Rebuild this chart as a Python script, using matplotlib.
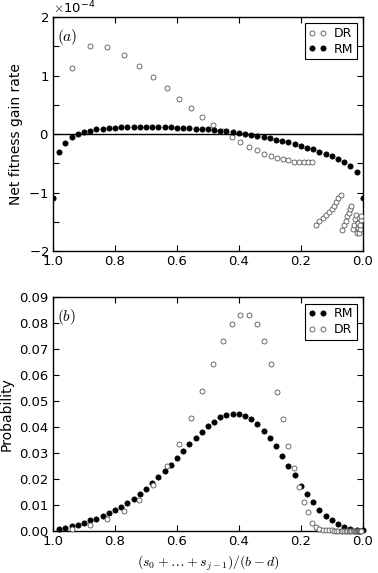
import matplotlib
matplotlib.use("Agg")
import matplotlib.pyplot as plt
from matplotlib.ticker import MultipleLocator, ScalarFormatter

plt.rcParams['font.family'] = ['DejaVu Sans']
plt.rcParams['mathtext.fontset'] = 'cm'
plt.rcParams['axes.unicode_minus'] = False
plt.rcParams['xtick.direction'] = 'in'
plt.rcParams['ytick.direction'] = 'in'
plt.rcParams['xtick.top'] = True
plt.rcParams['ytick.right'] = True

NaN = float('nan')

# ---------------- data ----------------
rm_x = [1.00, 0.98, 0.96, 0.94, 0.92, 0.90, 0.88, 0.86, 0.84, 0.82, 0.80,
        0.78, 0.76, 0.74, 0.72, 0.70, 0.68, 0.66, 0.64, 0.62, 0.60,
        0.58, 0.56, 0.54, 0.52, 0.50, 0.48, 0.46, 0.44, 0.42, 0.40,
        0.38, 0.36, 0.34, 0.32, 0.30, 0.28, 0.26, 0.24, 0.22, 0.20,
        0.18, 0.16, 0.14, 0.12, 0.10, 0.08, 0.06, 0.04, 0.02, 0.00]

rm_gain = [-1.10, -0.30, -0.15, -0.05, 0.00, 0.04, 0.06, 0.08, 0.09, 0.10, 0.11,
           0.115, 0.12, 0.12, 0.125, 0.125, 0.125, 0.12, 0.12, 0.115, 0.11,
           0.105, 0.10, 0.095, 0.09, 0.08, 0.07, 0.06, 0.045, 0.03, 0.01,
           -0.005, -0.02, -0.035, -0.05, -0.075, -0.10, -0.12, -0.14, -0.17, -0.20,
           -0.23, -0.26, -0.30, -0.34, -0.38, -0.42, -0.48, -0.54, -0.65, -1.10]

rm_prob = [NaN, 0.0005, 0.0010, 0.0017, 0.0023, 0.0030, 0.0039, 0.0046, 0.0055, 0.0067, 0.0079,
           0.0090, 0.0108, 0.0123, 0.0142, 0.0161, 0.0183, 0.0206, 0.0229, 0.0255, 0.0280,
           0.0307, 0.0333, 0.0358, 0.0381, 0.0403, 0.0421, 0.0437, 0.0446, 0.0451, 0.0451,
           0.0442, 0.0430, 0.0411, 0.0386, 0.0358, 0.0326, 0.0289, 0.0251, 0.0213, 0.0174,
           0.0140, 0.0110, 0.0080, 0.0058, 0.0040, 0.0025, 0.0013, 0.0007, 0.0003, 0.0002]

dr_x = [0.940, 0.881, 0.825, 0.772, 0.723, 0.676, 0.633, 0.592, 0.555, 0.518,
        0.484, 0.452, 0.422, 0.395, 0.368, 0.343, 0.319, 0.298, 0.277, 0.258,
        0.240, 0.222, 0.206, 0.191, 0.176, 0.164, 0.151,
        0.140, 0.129, 0.119, 0.110, 0.101, 0.093, 0.086, 0.079, 0.072,
        0.066, 0.060, 0.055, 0.050, 0.045, 0.041, 0.037,
        0.033, 0.029, 0.025, 0.021,
        0.019, 0.017, 0.015, 0.013,
        0.011, 0.009, 0.008, 0.006, 0.005]

dr_gain = [1.13, 1.50, 1.49, 1.35, 1.17, 0.97, 0.78, 0.60, 0.44, 0.29,
           0.16, 0.045, -0.05, -0.14, -0.22, -0.28, -0.34, -0.37, -0.405, -0.43,
           -0.445, -0.47, -0.475, -0.48, -0.48, -0.48, -1.55,
           -1.49, -1.43, -1.38, -1.33, -1.28, -1.23, -1.17, -1.10, -1.04,
           -1.64, -1.56, -1.48, -1.41, -1.35, -1.28, -1.23,
           -1.63, -1.55, -1.46, -1.38,
           -1.69, -1.60, -1.52, -1.43,
           -1.70, -1.62, -1.55, -1.47, -1.40]

dr_prob = [0.0005, 0.0022, 0.0044, 0.0077, 0.0118, 0.0176, 0.0250, 0.0336, 0.0436, 0.0540,
           0.0641, 0.0730, 0.0797, 0.0832, 0.0832, 0.0797, 0.0730, 0.0641, 0.0536, 0.0429,
           0.0328, 0.0241, 0.0167, 0.0112, 0.0071, 0.0031, 0.0013,
           0.0006, 0.0003, 0.0002, 0.0001, 0.0001, 0.0, 0.0, 0.0, 0.0,
           0.0, 0.0, 0.0, 0.0, 0.0, 0.0, 0.0,
           0.0, 0.0, 0.0, 0.0,
           0.0, 0.0, 0.0, 0.0,
           0.0, 0.0, 0.0, 0.0, 0.0]

gain_scale = 1e-4
xticks = [1.0, 0.8, 0.6, 0.4, 0.2, 0.0]
xtick_labels = ['1.0', '0.8', '0.6', '0.4', '0.2', '0.0']

# ---------------- figure ----------------
fig = plt.figure(figsize=(3.78, 5.73), dpi=100)
ax1 = fig.add_axes([0.140, 0.562, 0.820, 0.408])
ax2 = fig.add_axes([0.140, 0.074, 0.820, 0.407])

rm_style = dict(linestyle='none', marker='o', markersize=3.8,
                markerfacecolor='black', markeredgecolor='black', markeredgewidth=0.5)
dr_style = dict(linestyle='none', marker='o', markersize=3.6,
                markerfacecolor='white', markeredgecolor='#555555', markeredgewidth=0.6)

leg_kw = dict(loc='upper right', numpoints=2, fontsize=9, fancybox=False,
              framealpha=1, edgecolor='black', handlelength=1.5, borderpad=0.3,
              labelspacing=0.2, handletextpad=0.5, borderaxespad=0.5)

# panel (a)
ax1.axhline(0, color='black', lw=1.0, zorder=1)
ax1.plot(dr_x, [v * gain_scale for v in dr_gain], label='DR', zorder=3, **dr_style)
ax1.plot(rm_x, [v * gain_scale for v in rm_gain], label='RM', zorder=3, **rm_style)
ax1.set_xlim(1.0, 0.0)
ax1.set_ylim(-2e-4, 2e-4)
ax1.yaxis.set_major_locator(MultipleLocator(1e-4))
ax1.yaxis.set_minor_locator(MultipleLocator(0.5e-4))
fmt = ScalarFormatter(useMathText=True)
fmt.set_powerlimits((-3, 3))
ax1.yaxis.set_major_formatter(fmt)
ax1.yaxis.get_offset_text().set_fontsize(9.5)
ax1.set_xticks(xticks)
ax1.set_xticklabels(xtick_labels)
ax1.set_ylabel('Net fitness gain rate', fontsize=10)
ax1.text(0.012, 0.96, r'$(a)$', transform=ax1.transAxes, fontsize=11, va='top', ha='left')
leg1 = ax1.legend(**leg_kw)
leg1.get_frame().set_linewidth(0.8)

# panel (b)
ax2.plot(rm_x, rm_prob, label='RM', zorder=3, clip_on=False, **rm_style)
ax2.plot(dr_x, dr_prob, label='DR', zorder=3, clip_on=False, **dr_style)
ax2.set_xlim(1.0, 0.0)
ax2.set_ylim(0.0, 0.09)
ax2.yaxis.set_major_locator(MultipleLocator(0.01))
ax2.yaxis.set_major_formatter(plt.FormatStrFormatter('%.2f'))
ax2.set_xticks(xticks)
ax2.set_xticklabels(xtick_labels)
ax2.set_ylabel('Probability', fontsize=10)
ax2.set_xlabel(r'$(s_0+\ldots+s_{j-1})/(b-d)$', fontsize=10)
ax2.text(0.012, 0.96, r'$(b)$', transform=ax2.transAxes, fontsize=11, va='top', ha='left')
leg2 = ax2.legend(**leg_kw)
leg2.get_frame().set_linewidth(0.8)

for ax in (ax1, ax2):
    ax.tick_params(which='both', length=4, width=0.8, labelsize=9.5, pad=3)
    for s in ax.spines.values():
        s.set_linewidth(1.0)

fig.savefig('out.png', dpi=100)
